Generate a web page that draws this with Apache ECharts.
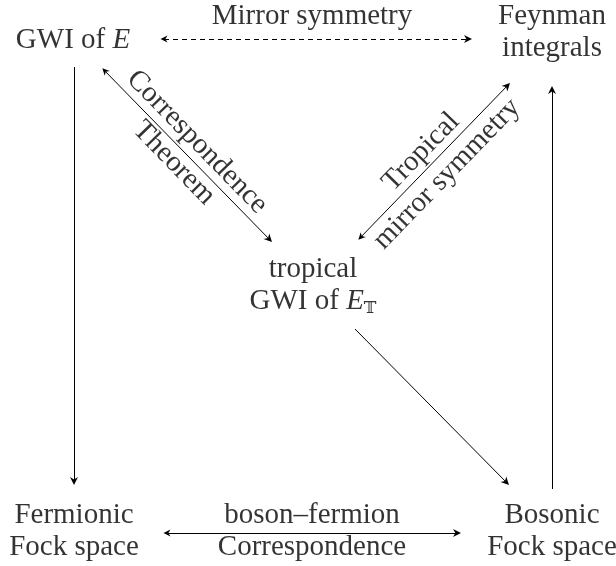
<!DOCTYPE html>
<html>
<head>
<meta charset="utf-8">
<script src="https://cdn.jsdelivr.net/npm/echarts@6/dist/echarts.min.js"></script>
<style>
html, body { margin: 0; padding: 0; background: #fff; }
#main { width: 616px; height: 566px; }
</style>
</head>
<body>
<div id="main"></div>
<script>
// nodes of the diagram
var nodeText = [
  'GWI of {e|E}',
  'Feynman\nintegrals',
  'tropical\nGWI of {e|E}{s|𝕋}',
  'Fermionic\nFock space',
  'Bosonic\nFock space'
];
var nodeX = [73, 552, 313, 74, 552];
var nodeY = [40, 32, 285, 531, 531];

// arrows between the nodes (tip positions)
var arrowFrom = [[160, 39], [102, 68], [358, 240], [355, 329], [74, 67], [552, 489], [163, 533]];
var arrowTo = [[472, 39], [272, 242], [510, 83], [509, 485], [74, 485], [552, 86], [461, 533]];
var arrowBoth = [true, true, true, false, false, false, true];
var arrowDashed = [true, false, false, false, false, false, false];

// labels on the arrows
var edgeText = ['Mirror symmetry', 'Correspondence', 'Theorem', 'Tropical', 'mirror symmetry', 'boson–fermion', 'Correspondence'];
var edgeX = [312, 197, 174, 421, 447, 312, 312];
var edgeY = [16, 142, 163, 152, 174, 515, 547];
var edgeAngle = [0, -45.7, -45.7, 45.9, 45.9, 0, 0];

var FONT = '"Liberation Serif", "DejaVu Serif", serif';
var SIZE = 29;
var HEAD = 8;
var arrowHead = 'path://M5,0 L10,10 L5,7 L0,10 Z';

var chart = echarts.init(document.getElementById('main'));

var rich = {
  e: { fontFamily: FONT, fontSize: SIZE, fontStyle: 'italic', color: '#000' },
  s: { fontFamily: '"DejaVu Serif", "DejaVu Sans", serif', fontSize: 17, lineHeight: 18, verticalAlign: 'bottom', color: '#000' }
};

// the arrow symbol is centred on the line end, so pull the end back by half a head
function pullBack(a, b, on) {
  if (!on) return a;
  var dx = b[0] - a[0], dy = b[1] - a[1];
  var len = Math.sqrt(dx * dx + dy * dy);
  return [a[0] + dx / len * HEAD / 2, a[1] + dy / len * HEAD / 2];
}

var series = [];

arrowFrom.forEach(function (p, i) {
  var q = arrowTo[i];
  series.push({
    type: 'lines',
    coordinateSystem: 'cartesian2d',
    silent: true,
    symbol: [arrowBoth[i] ? arrowHead : 'none', arrowHead],
    symbolSize: [7, HEAD],
    lineStyle: {
      color: '#000',
      width: 1,
      opacity: 1,
      type: arrowDashed[i] ? [5, 4] : 'solid'
    },
    data: [{ coords: [pullBack(p, q, arrowBoth[i]), pullBack(q, p, true)] }]
  });
});

series.push({
  type: 'scatter',
  symbolSize: 0,
  silent: true,
  data: nodeText.map(function (t, i) {
    return {
      value: [nodeX[i], nodeY[i]],
      label: {
        show: true,
        position: 'inside',
        formatter: t,
        fontFamily: FONT,
        fontSize: SIZE,
        lineHeight: 32,
        color: '#000',
        align: 'center',
        verticalAlign: 'middle',
        rich: rich
      }
    };
  })
});

series.push({
  type: 'scatter',
  symbolSize: 0,
  silent: true,
  data: edgeText.map(function (t, i) {
    return {
      value: [edgeX[i], edgeY[i]],
      label: {
        show: true,
        position: 'inside',
        formatter: t,
        rotate: edgeAngle[i],
        fontFamily: FONT,
        fontSize: SIZE,
        color: '#000',
        align: 'center',
        verticalAlign: 'middle'
      }
    };
  })
});

chart.setOption({
  animation: false,
  backgroundColor: '#fff',
  grid: { left: 0, right: 0, top: 0, bottom: 0 },
  xAxis: { type: 'value', min: 0, max: 616, show: false },
  yAxis: { type: 'value', min: 0, max: 566, inverse: true, show: false },
  series: series
});
</script>
</body>
</html>
